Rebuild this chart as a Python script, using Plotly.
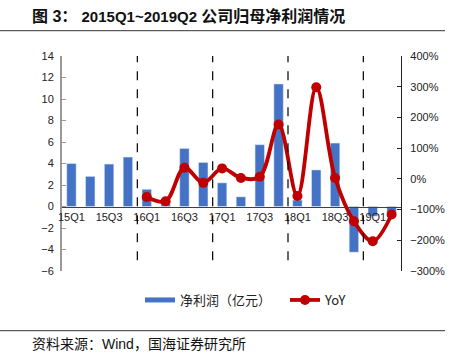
import plotly.graph_objects as go

quarters = ["15Q1","15Q2","15Q3","15Q4","16Q1","16Q2","16Q3","16Q4","17Q1","17Q2",
            "17Q3","17Q4","18Q1","18Q2","18Q3","18Q4","19Q1","19Q2"]
net_profit = [4.0, 2.8, 3.95, 4.6, 1.6, 0.5, 5.4, 4.1, 2.2, 0.9,
              5.75, 11.4, 0.6, 3.4, 5.9, -4.25, -0.9, -0.6]
yoy_quarters = quarters[4:]
yoy = [-59, -73, 36, -13, 34, 3, 7, 177, -56, 298, 3, -138, -203, -116]
tick_labels = quarters[::2]
year_breaks = [3.5, 7.5, 11.5, 15.5]

L, R, T, B = 62, 58, 56, 89
W, H = 459, 360
pw, ph = W - L - R, H - T - B

def px(x):
    return (x - L) / pw

def py(y):
    return (H - B - y) / ph

cjk = "Liberation Sans, Noto Sans CJK SC, sans-serif"

fig = go.Figure()
fig.add_trace(go.Bar(x=quarters, y=net_profit, marker_color="#4472C4", width=0.5,
                     name="净利润（亿元）", showlegend=False, yaxis="y"))
fig.add_trace(go.Scatter(x=[None], y=[None], mode="lines", name="净利润（亿元）",
                         line=dict(color="#4472C4", width=5), yaxis="y"))
fig.add_trace(go.Scatter(x=yoy_quarters, y=yoy, mode="lines+markers", name="YoY",
                         line=dict(color="#C00000", width=3.8, shape="spline", smoothing=1),
                         marker=dict(color="#C00000", size=10), yaxis="y2"))

shapes = []
for b in year_breaks:
    shapes.append(dict(type="line", xref="x", yref="y", x0=b, x1=b, y0=-5, y1=14.4,
                       line=dict(color="black", width=1.2, dash="dash"), layer="above"))
for yy in (30.7, 330.7):
    shapes.append(dict(type="line", xref="paper", yref="paper", x0=px(0), x1=px(445),
                       y0=py(yy), y1=py(yy), line=dict(color="#333333", width=1)))

title_html = ("<b><span style='font-size:16px'>图 3：</span> 2015Q1~2019Q2 "
              "<span style='font-size:16px'>公司归母净利润情况</span></b>")

fig.update_layout(
    width=W, height=H, margin=dict(l=L, r=R, t=T, b=B, autoexpand=False),
    paper_bgcolor="white", plot_bgcolor="white",
    font=dict(family=cjk, size=11, color="#222222"),
    showlegend=True,
    legend=dict(orientation="h", x=px(140), y=py(300), xanchor="left", yanchor="middle",
                font=dict(size=13, family="Noto Sans CJK SC"), itemwidth=30,
                entrywidth=100, entrywidthmode="pixels",
                bgcolor="rgba(0,0,0,0)"),
    xaxis=dict(type="category", categoryorder="array", categoryarray=quarters,
               range=[-0.5, 17.5], anchor="free", position=0.3,
               tickvals=tick_labels, ticktext=tick_labels, ticks="",
               showline=True, linecolor="#404040", linewidth=1.3, showgrid=False,
               tickfont=dict(size=11, family="Liberation Sans")),
    yaxis=dict(range=[-6, 14], dtick=2, showgrid=False, zeroline=False,
               showline=True, linecolor="#999999", linewidth=2, ticks="inside",
               ticklen=4, tickcolor="#999999", ticklabelstandoff=4,
               tickfont=dict(size=11, family="Liberation Sans")),
    yaxis2=dict(range=[-300, 400], dtick=100, ticksuffix="%", overlaying="y", side="right",
                showgrid=False, zeroline=False, showline=True, linecolor="#222222",
                linewidth=1.2, ticks="inside", ticklen=4, tickcolor="#222222",
                ticklabelstandoff=6,
                tickfont=dict(size=11, family="Liberation Sans")),
    shapes=shapes,
    annotations=[
        dict(text=title_html, xref="paper", yref="paper",
             x=px(30), y=py(16), xanchor="left", yanchor="middle", showarrow=False,
             font=dict(size=15, color="#111111", family=cjk)),
        dict(text="资料来源：Wind，国海证券研究所", xref="paper", yref="paper",
             x=px(30), y=py(344), xanchor="left", yanchor="middle", showarrow=False,
             font=dict(size=14, color="#111111", family=cjk)),
    ],
)

fig.write_html("out.html", config={"displayModeBar": False},
               post_script="document.body.style.margin='0';document.body.style.overflow='hidden';")
